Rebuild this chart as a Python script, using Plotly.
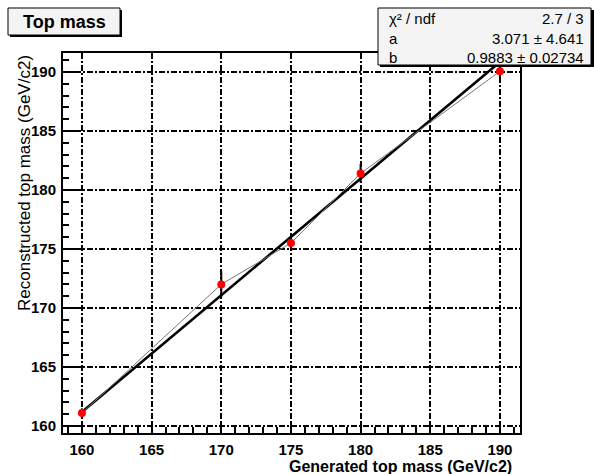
import plotly.graph_objects as go

# ---- data ----
gen_mass = [160, 170, 175, 180, 190]
rec_mass = [161.1, 172.0, 175.5, 181.4, 190.05]
rec_err = [0.4, 1.1, 0.5, 0.8, 0.5]
fit_a = 3.071
fit_b = 0.9883
fit_x = [160, 190]
x_ticks = [160, 165, 170, 175, 180, 185, 190]
y_ticks = [160, 165, 170, 175, 180, 185, 190]
stats_rows = [("χ² / ndf", "2.7 / 3"), ("a", "3.071 ± 4.641"), ("b", "0.9883 ± 0.02734")]

W, H = 594, 474
L, R, T, B = 63, 520, 53, 433


def xp(px):
    return (px - L) / (R - L)


def yp(py):
    return (B - py) / (B - T)


fig = go.Figure()

fit_y = [fit_a + fit_b * x for x in fit_x]
fig.add_trace(go.Scatter(x=fit_x, y=fit_y, mode="lines",
                         line=dict(color="black", width=2.6), hoverinfo="skip"))
fig.add_trace(go.Scatter(x=gen_mass, y=rec_mass, mode="lines+markers",
                         line=dict(color="#777777", width=1),
                         marker=dict(color="#ff0000", size=8),
                         error_y=dict(type="data", array=rec_err, color="black",
                                      thickness=2, width=0)))

font = "Liberation Sans, Arial, Helvetica, sans-serif"

axis_common = dict(
    showline=True, linewidth=2, linecolor="black", mirror=True,
    ticks="inside", ticklen=12, tickwidth=1.5, tickcolor="black",
    showgrid=True, gridcolor="black", gridwidth=1.6, griddash="6px,2px,2px,2px",
    zeroline=False, automargin=False,
    tickfont=dict(family=font, size=15, color="black", weight="bold"),
    minor=dict(ticks="inside", ticklen=6, tickwidth=1.5, tickcolor="black",
               dtick=1, showgrid=False),
)

fig.update_layout(
    width=W, height=H,
    margin=dict(l=L, r=W - R, t=T, b=H - B, pad=0),
    paper_bgcolor="white", plot_bgcolor="white",
    showlegend=False,
    xaxis=dict(range=[158.64, 191.44], tickvals=x_ticks, **axis_common,
               ticklabelstandoff=2),
    yaxis=dict(range=[159.41, 191.6], tickvals=y_ticks, **axis_common,
               ticklabelstandoff=2),
)

shapes = []
annotations = []

# title box with shadow
shapes.append(dict(type="rect", xref="paper", yref="paper",
                   x0=xp(10), x1=xp(122), y0=yp(37), y1=yp(10),
                   line=dict(width=0), fillcolor="black", layer="above"))
shapes.append(dict(type="rect", xref="paper", yref="paper",
                   x0=xp(8), x1=xp(120), y0=yp(35), y1=yp(8),
                   line=dict(color="black", width=1), fillcolor="#f4f4f4", layer="above"))
annotations.append(dict(text="<b>Top mass</b>", xref="paper", yref="paper",
                        x=xp(64), y=yp(22), showarrow=False,
                        xanchor="center", yanchor="middle",
                        font=dict(family=font, size=18, color="black")))

# stats box with shadow
shapes.append(dict(type="rect", xref="paper", yref="paper",
                   x0=xp(380), x1=xp(594), y0=yp(67), y1=yp(10),
                   line=dict(width=0), fillcolor="black", layer="above"))
shapes.append(dict(type="rect", xref="paper", yref="paper",
                   x0=xp(378), x1=xp(591), y0=yp(65), y1=yp(8),
                   line=dict(color="black", width=1), fillcolor="#f4f4f4", layer="above"))
row_y = [19, 38, 57]
for (lab, val), ry in zip(stats_rows, row_y):
    annotations.append(dict(text=lab, xref="paper", yref="paper", x=xp(387), y=yp(ry),
                            showarrow=False, xanchor="left", yanchor="middle",
                            font=dict(family=font, size=15, color="black")))
    annotations.append(dict(text=val, xref="paper", yref="paper", x=xp(586), y=yp(ry),
                            showarrow=False, xanchor="right", yanchor="middle",
                            font=dict(family=font, size=15, color="black")))

# axis titles
annotations.append(dict(text="<b>Generated top mass (GeV/c2)</b>", xref="paper", yref="paper",
                        x=xp(514), y=yp(466), showarrow=False,
                        xanchor="right", yanchor="middle",
                        font=dict(family=font, size=16, color="black")))
annotations.append(dict(text="Reconstructed top mass (GeV/c2)", xref="paper", yref="paper",
                        x=xp(24), y=yp(53), showarrow=False, textangle=-90,
                        xanchor="center", yanchor="top",
                        font=dict(family=font, size=17, color="black")))

fig.update_layout(shapes=shapes, annotations=annotations)
fig.write_html("out.html", config={"displayModeBar": False},
               post_script="document.body.style.margin='0';document.body.style.padding='0';")
